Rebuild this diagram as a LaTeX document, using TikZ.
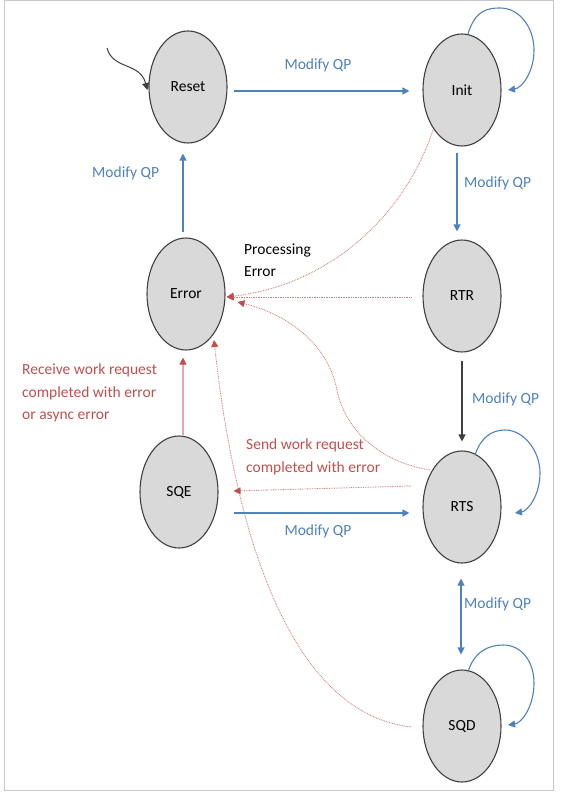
\documentclass[tikz,border=0pt]{standalone}
\usepackage{fontspec}
\setmainfont{Carlito}
\usetikzlibrary{shapes.geometric,arrows.meta,calc}
\definecolor{qblue}{HTML}{4F81BD}
\definecolor{qred}{HTML}{C0504D}
\definecolor{qpale}{HTML}{E3A9A7}
\definecolor{qdot}{HTML}{D47E7C}
\definecolor{qfill}{HTML}{D9D9D9}
\definecolor{qedge}{HTML}{404040}
\definecolor{qframe}{HTML}{C8C8C8}
\tikzset{
  x=1pt,y=-1pt,
  every node/.style={font=\fontsize{15.5}{22.5}\selectfont},
  state/.style={ellipse,draw=qedge,fill=qfill,line width=1.1pt,minimum width=78pt,minimum height=112pt,inner sep=0pt},
  tipb/.style={-{Triangle[length=7pt,width=7pt]}},
  bluearr/.style={tipb,draw=qblue,line width=1.1pt},
  blackarr/.style={tipb,draw=qedge,line width=1.1pt},
  dotarr/.style={-{Triangle[length=7pt,width=7pt,color=qred]},draw=qdot,line width=0.9pt,dash pattern=on 0.8pt off 0.9pt},
  palearr/.style={-{Triangle[length=7pt,width=7pt,color=qred]},draw=qpale,line width=1.1pt},
  bluelbl/.style={text=qblue,inner sep=0pt},
  redlbl/.style={text=qred,inner sep=0pt,align=left,anchor=west},
}
\begin{document}
\begin{tikzpicture}
\useasboundingbox (0,0) rectangle (560,794);
\draw[qframe,line width=1pt] (4,1) rectangle (553,790);

\node[state] (reset) at (188,87) {Reset};
\node[state] (init)  at (462,90) {Init};
\node[state] (error) at (186,294) {Error};
\node[state] (rtr)   at (462,296) {RTR};
\node[state] (sqe)   at (179,492) {SQE};
\node[state] (rts)   at (462,507) {RTS};
\node[state] (sqd)   at (462,726) {SQD};

% initial arrow
\coordinate (start) at (107,48);
\draw[blackarr,line width=1pt] (start) .. controls (113,70) and (140,62) .. ($(reset.west)+(-1,3)$);

% Reset -> Init
\draw[bluearr] ($(reset.east)+(6,4)$) -- ($(init.west)+(-13,1)$);
\node[bluelbl] (l1) at (318,65) {Modify QP};

% Init self-loop
\draw[bluearr] ($(init)+(6,-56)$) .. controls ($(init)+(13,-80)$) and ($(init)+(26,-82)$) .. ($(init)+(38,-82)$)
  .. controls ($(init)+(58,-82)$) and ($(init)+(72,-62)$) .. ($(init)+(72,-40)$)
  .. controls ($(init)+(72,-18)$) and ($(init)+(60,-2)$) .. ($(init)+(46,0)$);

% Init -> RTR
\draw[bluearr] ($(init.south)+(-5,6)$) -- ($(rtr.north)+(-5,-8)$);
\node[bluelbl,anchor=west] (l2) at (464,183) {Modify QP};

% Init -> Error (dotted)
\draw[dotarr] ($(init)+(-29,40)$) .. controls (405,215) and (330,285) .. ($(error.east)+(1,3)$);
% RTR -> Error (dotted)
\draw[dotarr] ($(rtr.west)+(-11,1)$) -- ($(error.east)+(1,3)$);
\node[anchor=west,align=left,inner sep=0pt] (pe) at (244,260) {Processing\\Error};

% RTS -> Error (dotted)
\draw[dotarr] ($(rts)+(-32,-37)$) .. controls (380,462) and (345,430) .. (337,390)
  .. controls (328,345) and (290,315) .. ($(error.east)+(12,8)$);

% SQD -> Error (dotted)
\draw[dotarr] ($(sqd.west)+(-11,1)$) .. controls (300,715) and (238,560) .. ($(error)+(28,46)$);

% Error -> Reset
\draw[bluearr] ($(error.north)+(-3,-5)$) -- ($(reset.south)+(-5,10)$);
\node[bluelbl,anchor=west] (l3) at (92,173) {Modify QP};

% RTR -> RTS
\draw[blackarr] ($(rtr.south)+(0,8)$) -- ($(rts.north)+(0,-9)$);
\node[bluelbl,anchor=west] (l4) at (472,399) {Modify QP};

% RTS self-loop
\draw[bluearr] ($(rts)+(13,-52)$) .. controls ($(rts)+(19,-70)$) and ($(rts)+(30,-77)$) .. ($(rts)+(43,-77)$)
  .. controls ($(rts)+(62,-77)$) and ($(rts)+(78,-56)$) .. ($(rts)+(78,-34)$)
  .. controls ($(rts)+(78,-12)$) and ($(rts)+(66,4)$) .. ($(rts)+(53,6)$);

% RTS -> SQE (dotted)
\draw[dotarr] ($(rts.west)+(-11,-21)$) -- ($(sqe.east)+(15,-1)$);
\node[redlbl] (l5) at (246,457) {Send work request\\completed with error};

% SQE -> RTS
\draw[bluearr] ($(sqe.east)+(15,21)$) -- ($(rts.west)+(-13,6)$);
\node[bluelbl] (l6) at (318,531) {Modify QP};

% SQE -> Error
\draw[palearr] ($(sqe.north)+(4,0)$) -- ($(error.south)+(-3,7)$);
\node[redlbl] (l7) at (22,393) {Receive work request\\completed with error\\or async error};

% RTS <-> SQD
\draw[bluearr,{Triangle[length=7pt,width=7pt]}-{Triangle[length=7pt,width=7pt]}] ($(rts.south)+(-1,15)$) -- ($(sqd.north)+(-1,-15)$);
\node[bluelbl,anchor=west] (l8) at (464,604) {Modify QP};

% SQD self-loop
\draw[bluearr] ($(sqd)+(6,-54)$) .. controls ($(sqd)+(12,-74)$) and ($(sqd)+(26,-81)$) .. ($(sqd)+(41,-81)$)
  .. controls ($(sqd)+(60,-81)$) and ($(sqd)+(72,-64)$) .. ($(sqd)+(72,-43)$)
  .. controls ($(sqd)+(72,-20)$) and ($(sqd)+(60,-3)$) .. ($(sqd)+(46,-1)$);
\end{tikzpicture}
\end{document}
